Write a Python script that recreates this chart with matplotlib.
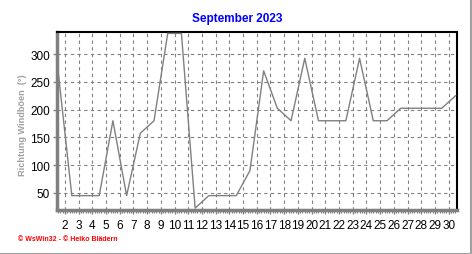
import matplotlib
matplotlib.use("Agg")
import matplotlib.pyplot as plt
import numpy as np
from matplotlib.ticker import MultipleLocator, FixedLocator

days = list(range(1, 31))
direction = [270, 45, 45, 45, 180, 45, 157.5, 180, 337.5, 337.5,
             22.5, 45, 45, 45, 90, 270, 202.5, 180, 292.5, 180,
             180, 180, 292.5, 180, 180, 202.5, 202.5, 202.5, 202.5, 225]
xticks = list(range(2, 31))
yticks = [50, 100, 150, 200, 250, 300]

plt.rcParams['font.family'] = ['Liberation Sans', 'DejaVu Sans']

fig = plt.figure(figsize=(4.72, 2.55), dpi=100)
ax = fig.add_axes([57/472, 1-210.5/255, (457-57)/472, (210.5-33)/255])

x = np.array(days) + 0.5
ax.plot(x, direction, color='#808080', lw=1.0, clip_on=True, zorder=3)

ax.set_xlim(1.42, 30.61)
ax.set_ylim(20, 340)
ax.xaxis.set_major_locator(FixedLocator(xticks))
ax.xaxis.set_minor_locator(MultipleLocator(1/6))
ax.set_xticks(xticks)
ax.set_xticklabels([str(t) for t in xticks])
ax.set_yticks(yticks)
ax.grid(True, which='major', color='#808080', ls=(0, (3, 3)), lw=0.8)

for s in ['top', 'right']:
    ax.spines[s].set_color('black')
    ax.spines[s].set_linewidth(1.5)
for s in ['left', 'bottom']:
    ax.spines[s].set_color('#808080')
    ax.spines[s].set_linewidth(2.5)

ax.tick_params(axis='x', which='major', length=3, width=1, color='#808080',
               labelsize=8.5, pad=4)
ax.tick_params(axis='x', which='minor', length=2, width=0.8, color='#808080')
ax.tick_params(axis='y', which='major', length=3, width=1, color='#808080',
               labelsize=8.5, pad=2)

fig.text(23/472, 1-125/255, 'Richtung Windböen  (°)', color='#a0a0a0',
         fontsize=6.6, fontweight='bold', rotation=90, ha='center', va='center')

fig.text(237/472, 1-19/255, 'September 2023', color='#0000ff', fontsize=8.5,
         fontweight='bold', ha='center', va='center')
fig.text(18/472, 1-240/255, '© WsWin32 - © Heiko Blädern', color='#ff0000',
         fontsize=5, fontweight='bold', ha='left', va='center')

fig.add_artist(plt.Line2D([0, 1], [0.5/255, 0.5/255], color='#a0a0a0', lw=1.5,
                          transform=fig.transFigure))
fig.add_artist(plt.Line2D([471/472, 471/472], [0, 1], color='#a0a0a0', lw=1.5,
                          transform=fig.transFigure))

fig.savefig('out.png', dpi=100)
